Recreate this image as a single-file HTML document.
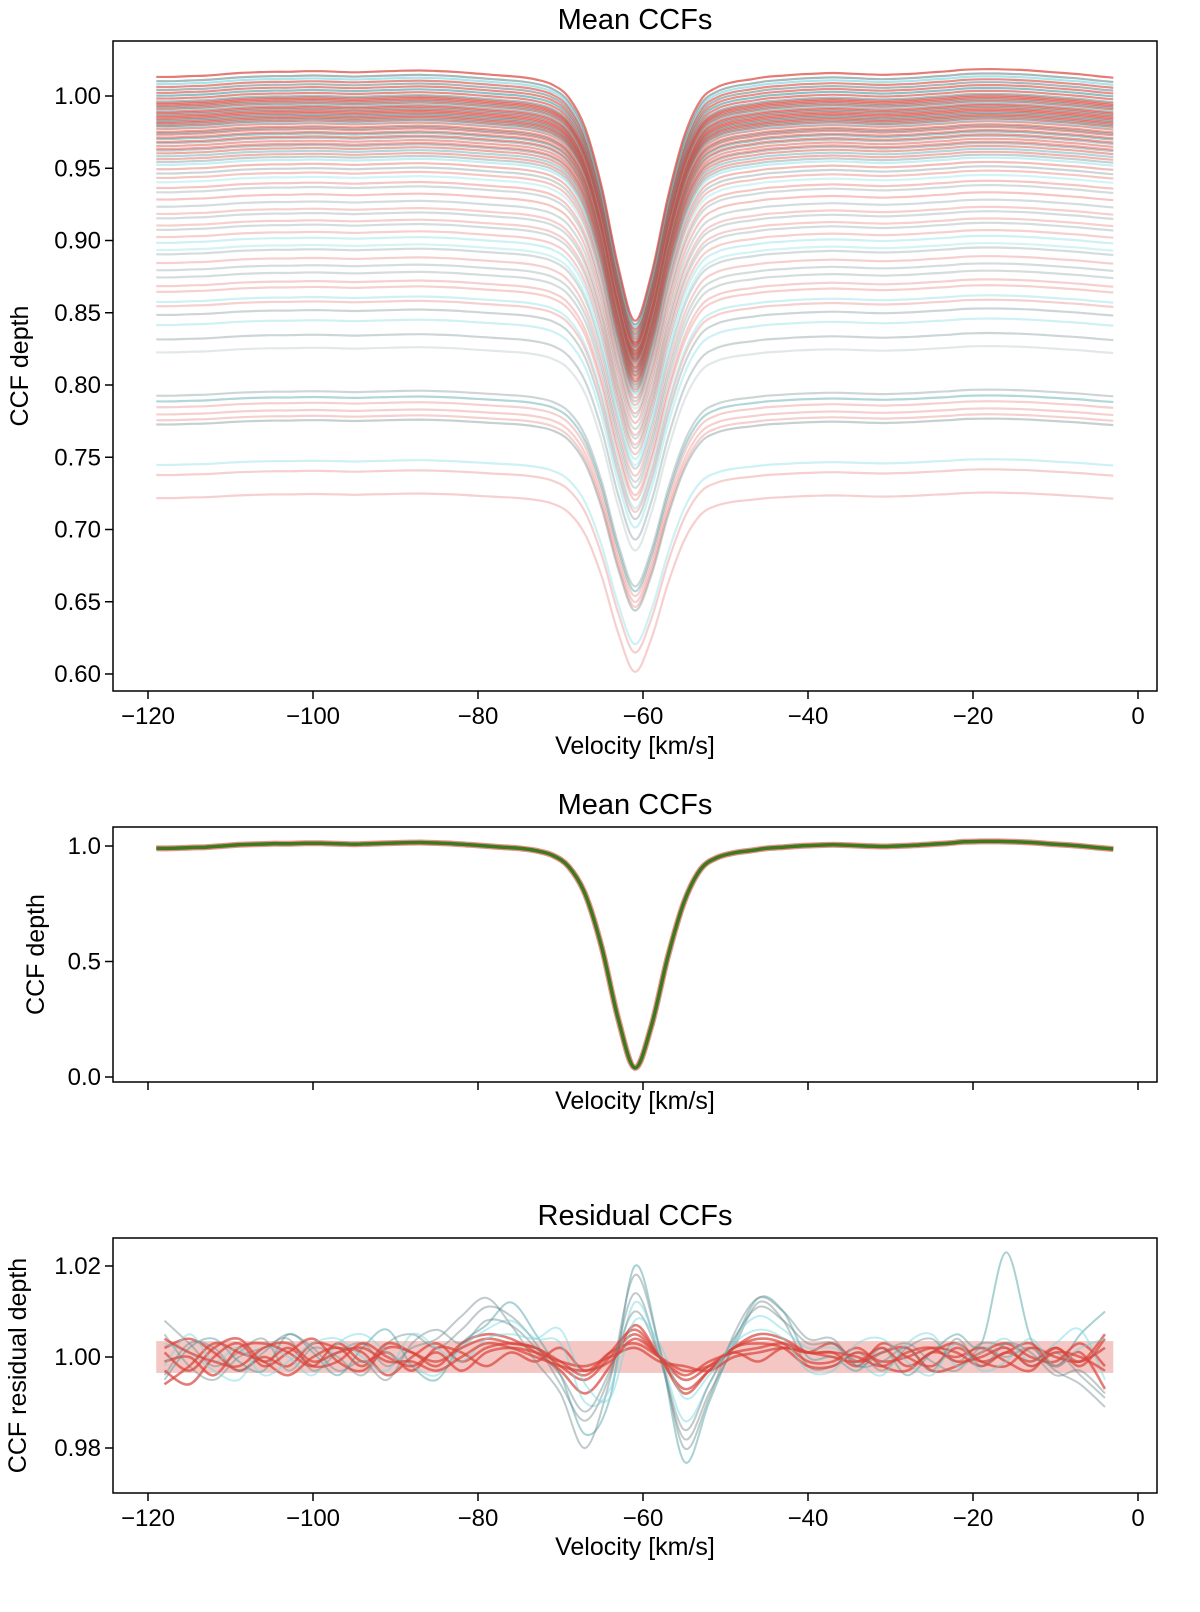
<!DOCTYPE html>
<html><head><meta charset="utf-8"><title>Mean CCFs</title>
<style>
html,body{margin:0;padding:0;background:#fff;}
svg{display:block;font-family:"Liberation Sans","DejaVu Sans",sans-serif;}
</style></head>
<body>
<svg id="fig" width="1200" height="1612" viewBox="0 0 1200 1612" xmlns="http://www.w3.org/2000/svg">
<defs>
<clipPath id="c1"><rect x="113" y="41" width="1044" height="650"/></clipPath>
<clipPath id="c2"><rect x="113" y="827" width="1044" height="255"/></clipPath>
<clipPath id="c3"><rect x="113" y="1238" width="1044" height="255"/></clipPath>
</defs>
<g id="p1"></g>
<g id="p2"></g>
<g id="p3"></g>
</svg>
<script>
// ---- data ----
const velStart = -119, velStep = 2;
const profile = [0.99,0.99,0.993,0.995,1.0,1.005,1.008,1.01,1.01,1.012,1.012,1.01,1.008,1.01,1.012,1.014,1.015,1.013,1.01,1.005,1.0,0.995,0.99,0.98,0.96,0.91,0.79,0.56,0.25,0.04,0.22,0.52,0.76,0.9,0.95,0.97,0.98,0.99,0.995,1.0,1.003,1.005,1.003,1.0,0.998,1.0,1.003,1.008,1.012,1.018,1.02,1.02,1.018,1.015,1.01,1.005,1.0,0.993,0.987];
const dipScale = 0.175;
const continuum = [0.723,0.739,0.746,0.774,0.777,0.781,0.786,0.790,0.794,0.824,0.833,0.843,0.850,0.856,0.859,0.866,0.870,0.876,0.881,0.886,0.892,0.895,0.900,0.904,0.909,0.912,0.917,0.920,0.925,0.930,0.935,0.938,0.942,0.945,0.948,0.951,0.954,0.956,0.958,0.960,0.962,0.964,0.965,0.967,0.969,0.970,0.972,0.973,0.975,0.976,0.977,0.979,0.980,0.981,0.982,0.983,0.984,0.985,0.986,0.987,0.988,0.989,0.990,0.991,0.992,0.993,0.994,0.995,0.996,0.997,0.998,1.000,1.002,1.004,1.006,1.008,1.010,1.012,1.015];
const lineColor = "rrcgrrrtgggcgrcrrggrgccrgrgrgrgrcrgrcgrtrgrrgrtrrgrrcrgrrtrrrgrrcrgrrrgrtrgrcg";
const lineAlpha = [0.25,0.25,0.35,0.4,0.25,0.25,0.25,0.4,0.35,0.2,0.35,0.35,0.35,0.25,0.35,0.25,0.25,0.3,0.3,0.25,0.3,0.3,0.35,0.25,0.3,0.25,0.3,0.25,0.3,0.3,0.3,0.3,0.3,0.3,0.35,0.35,0.4,0.4,0.4,0.4,0.45,0.45,0.45,0.45,0.45,0.5,0.5,0.5,0.5,0.5,0.5,0.5,0.55,0.55,0.55,0.55,0.55,0.55,0.55,0.55,0.55,0.55,0.55,0.55,0.55,0.55,0.55,0.55,0.55,0.55,0.55,0.6,0.6,0.6,0.6,0.6,0.6,0.6,0.7];
const xTicks = [-120,-100,-80,-60,-40,-20,0];
const yTicks1 = [0.60,0.65,0.70,0.75,0.80,0.85,0.90,0.95,1.00];
const yTicks2 = [0.0,0.5,1.0];
const yTicks3 = [0.98,1.00,1.02];
const resStart = -118, resStep = 3;
const resBand = 0.0035;
const resSeries = [
[8,3,-2,1,4,-3,2,0,-4,3,5,2,6,11,9,3,-6,-14,-4,14,0,-18,-8,2,12,8,-2,-2,1,-3,2,4,-1,3,2,-2,1,-4,-9],
[-5,2,4,-1,-3,5,1,-4,2,6,-2,-5,3,7,12,5,-4,-17,-9,20,2,-23,-10,3,13,10,0,0,-3,2,-4,1,5,3,23,4,-2,5,10],
[-3,-6,0,3,-2,1,4,-1,-3,2,1,-2,3,5,4,1,-3,-8,-2,7,0,-7,-3,2,5,4,1,1,-2,3,0,-2,2,-1,1,3,-2,1,-7],
[2,4,1,-3,0,-2,3,2,1,-4,0,3,-1,2,3,2,-2,-5,0,5,0,-5,-2,2,4,3,-1,-1,2,-2,-3,1,0,2,-1,-3,2,-2,4],
[-1,0,-4,2,3,1,-2,3,-1,1,-3,2,1,-2,1,-1,2,-3,1,3,0,-3,-2,1,-1,2,1,3,-1,1,2,-3,-2,1,3,0,-1,3,-2],
[5,-2,-5,0,2,4,-3,1,3,-2,2,4,9,13,7,-1,-8,-20,-5,18,2,-20,-9,5,13,10,4,4,-2,1,3,-1,-3,2,0,2,-3,-6,-11],
[3,1,-3,-5,2,0,-4,3,5,1,-2,-4,2,6,8,4,3,-10,-7,12,1,-14,-6,4,9,6,2,2,-1,-4,3,5,-2,1,4,-1,3,6,-5],
[-6,-2,3,1,-1,-4,0,2,-2,3,1,-1,2,4,3,2,-1,-4,1,6,0,-8,-3,2,3,2,-2,-2,1,-1,0,2,1,-2,1,-1,2,-1,5],
[-4,3,2,-3,1,5,2,-3,-1,-5,3,6,3,8,7,2,-4,-12,-3,10,0,-16,-6,4,11,8,3,3,-2,-1,2,-3,4,-2,3,1,-4,-3,-8],
[1,-3,2,4,-1,2,-2,-1,3,0,-2,1,-3,1,2,1,-1,-2,0,2,-1,-2,-3,0,1,2,1,0,-1,2,-2,1,3,-1,-2,2,0,-1,2],
[-2,5,-1,2,-4,-1,3,4,0,-3,5,2,-1,4,5,4,6,-6,-9,8,3,-9,-4,3,6,4,-3,-3,3,4,-1,-4,3,-3,-1,4,-2,2,4],
[4,1,-1,-2,2,3,-1,1,2,-1,-1,-3,0,3,2,0,-2,-3,-1,4,0,-4,-1,1,2,3,1,1,0,-2,1,2,-1,0,2,-2,1,0,-3]
];
const resColor = "gtrrrgcrgrcr";

// ---- helpers ----
const NS="http://www.w3.org/2000/svg";
const COLORS={r:"#d9453a",c:"#6fd6df",g:"#708a8c",t:"#3f9aa0"};
function mk(tag,attrs,parent){const e=document.createElementNS(NS,tag);for(const k in attrs)e.setAttribute(k,attrs[k]);parent.appendChild(e);return e;}
const xs = v => 148 + (v+120)*8.25;
const ys1 = d => 96 + (1.0-d)*1445;
const ys2 = d => 1077 - d*231;
const ys3 = d => 1357 - (d-1.0)*4550;
function smooth(pts){let d="M"+pts[0][0].toFixed(1)+","+pts[0][1].toFixed(1);
 for(let i=0;i<pts.length-1;i++){const p0=pts[i-1]||pts[i],p1=pts[i],p2=pts[i+1],p3=pts[i+2]||p2;
  const c1x=p1[0]+(p2[0]-p0[0])/6,c1y=p1[1]+(p2[1]-p0[1])/6,c2x=p2[0]-(p3[0]-p1[0])/6,c2y=p2[1]-(p3[1]-p1[1])/6;
  d+=`C${c1x.toFixed(1)},${c1y.toFixed(1)} ${c2x.toFixed(1)},${c2y.toFixed(1)} ${p2[0].toFixed(1)},${p2[1].toFixed(1)}`;}
 return d;}
function fmt(v,dp){return (v<0?"\u2212":"")+Math.abs(v).toFixed(dp);}
function axes(g,top,bottom,yTicks,ys,dp,xLabels,title,titleY,ylab,ylabX,xlabY){
 const frame=mk("rect",{x:113,y:top,width:1044,height:bottom-top,fill:"none",stroke:"#000","stroke-width":1.5},g);
 
 
 xTicks.forEach(t=>{const x=xs(t);
  const tk=mk("line",{x1:x,x2:x,y1:bottom,y2:bottom+8,stroke:"#000","stroke-width":1.5},g);
  
  
  if(xLabels){const tl=mk("text",{x:x,y:bottom+33,"font-size":24,"text-anchor":"middle",fill:"#000"},g);tl.textContent=fmt(t,0);
   
   }
 });
 yTicks.forEach(t=>{const y=ys(t);
  const tk=mk("line",{x1:105,x2:113,y1:y,y2:y,stroke:"#000","stroke-width":1.5},g);
  
  
  const tl=mk("text",{x:101,y:y+8,"font-size":24,"text-anchor":"end",fill:"#000"},g);tl.textContent=t.toFixed(dp);
  
  
 });
 const tt=mk("text",{x:635,y:titleY,"font-size":29,"text-anchor":"middle",fill:"#000"},g);tt.textContent=title;
 
 
 const xl=mk("text",{x:635,y:xlabY,"font-size":25,"text-anchor":"middle",fill:"#000"},g);xl.textContent="Velocity [km/s]";
 
 
 const cy=(top+bottom)/2;
 const yl=mk("text",{x:ylabX,y:cy,"font-size":25,"text-anchor":"middle",fill:"#000",transform:`rotate(-90 ${ylabX} ${cy})`},g);yl.textContent=ylab;
 
 
}

// ---- panel 1 ----
const g1=document.getElementById("p1");
const l1=mk("g",{"clip-path":"url(#c1)"},g1);
continuum.forEach((c,i)=>{
 const pts=profile.map((p,k)=>[xs(velStart+k*velStep), ys1(c*(1-dipScale*(1-p)))]);
 const path=mk("path",{d:smooth(pts),fill:"none",stroke:COLORS[lineColor[i]]||COLORS.r,"stroke-opacity":lineAlpha[i],"stroke-width":2.2},l1);
 
 
});
axes(g1,41,691,yTicks1,ys1,2,true,"Mean CCFs",29,"CCF depth",28,754);

// ---- panel 2 ----
const g2=document.getElementById("p2");
const l2=mk("g",{"clip-path":"url(#c2)"},g2);
const pts2=profile.map((p,k)=>[xs(velStart+k*velStep), ys2(p)]);
const r2=mk("path",{d:smooth(pts2),fill:"none",stroke:"#d9453a","stroke-opacity":0.6,"stroke-width":6},l2);


const gr2=mk("path",{d:smooth(pts2),fill:"none",stroke:"#3d7a1e","stroke-width":3.5},l2);


axes(g2,827,1082,yTicks2,ys2,1,false,"Mean CCFs",814,"CCF depth",44,1109);

// ---- panel 3 ----
const g3=document.getElementById("p3");
const l3=mk("g",{"clip-path":"url(#c3)"},g3);
const band=mk("rect",{x:xs(resStart-1),y:ys3(1+resBand),width:xs(-3)-xs(resStart-1),height:ys3(1-resBand)-ys3(1+resBand),fill:"#d9453a","fill-opacity":0.3},l3);


resSeries.forEach((s,i)=>{
 const pts=s.map((r,k)=>[xs(resStart+k*resStep), ys3(1+r/1000)]);
 const c=resColor[i];
 const path=mk("path",{d:smooth(pts),fill:"none",stroke:COLORS[c],"stroke-opacity":c==="r"?0.7:0.45,"stroke-width":c==="r"?2.6:2},l3);
 
 
});
axes(g3,1238,1493,yTicks3,ys3,2,true,"Residual CCFs",1225,"CCF residual depth",26,1555);
</script>
</body></html>
